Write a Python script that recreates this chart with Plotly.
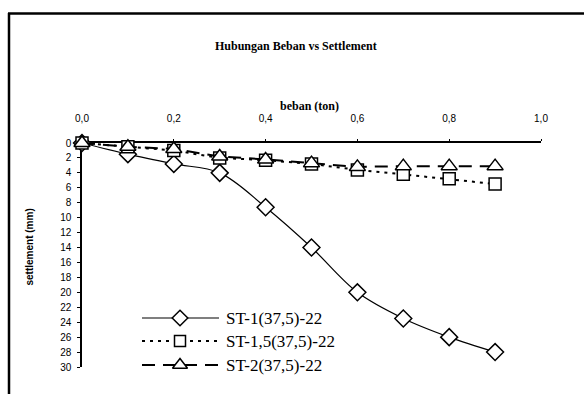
import plotly.graph_objects as go

beban = [0.0, 0.1, 0.2, 0.3, 0.4, 0.5, 0.6, 0.7, 0.8, 0.9]
st1 = [0.0, 1.5, 2.8, 4.0, 8.6, 14.0, 20.0, 23.5, 26.0, 28.0]
st15 = [0.0, 0.5, 1.0, 2.0, 2.3, 2.8, 3.6, 4.2, 4.8, 5.5]
st2 = [0.0, 0.5, 0.8, 1.8, 2.2, 2.7, 3.2, 3.1, 3.1, 3.1]
names = ["ST-1(37,5)-22", "ST-1,5(37,5)-22", "ST-2(37,5)-22"]
x_ticks = [0.0, 0.2, 0.4, 0.6, 0.8, 1.0]
x_ticktext = ["0,0", "0,2", "0,4", "0,6", "0,8", "1,0"]
y_ticks = list(range(0, 31, 2))

W, H = 584, 394
L, R, T, B = 82, 541, 143, 367

def px(x):
    return (x - L) / (R - L)

def py(y):
    return (B - y) / (B - T)

styles = [
    dict(sym="diamond", size=13, dash="solid", width=1.2, shape="spline"),
    dict(sym="square", size=12, dash="3px,5px", width=2, shape="linear"),
    dict(sym="triangle-up", size=14, dash="13px,8px", width=2, shape="linear"),
]
series = [st1, st15, st2]

fig = go.Figure()
for s, st, nm in zip(series, styles, names):
    fig.add_trace(go.Scatter(
        x=beban, y=s, name=nm, mode="lines+markers",
        line=dict(color="black", width=st["width"], dash=st["dash"], shape=st["shape"]),
        marker=dict(symbol=st["sym"], size=st["size"], color="white",
                    line=dict(color="black", width=1.5)),
        cliponaxis=False, showlegend=False,
    ))

# custom legend (sample line + marker on an overlay paper-like axis)
leg_rows = [318, 341, 365]
lx0, lx1, lxm = 142, 219, 180
for i, (st, nm) in enumerate(zip(styles, names)):
    yy = py(leg_rows[i])
    fig.add_trace(go.Scatter(
        x=[px(lx0), px(lx1)], y=[yy, yy], mode="lines", xaxis="x2", yaxis="y2",
        line=dict(color="black", width=st["width"], dash=st["dash"]),
        showlegend=False, hoverinfo="skip", cliponaxis=False))
    fig.add_trace(go.Scatter(
        x=[px(lxm)], y=[yy], mode="markers", xaxis="x2", yaxis="y2",
        marker=dict(symbol=st["sym"], size=st["size"] - 1, color="white",
                    line=dict(color="black", width=1.5)),
        showlegend=False, hoverinfo="skip", cliponaxis=False))
    fig.add_annotation(x=px(224), y=yy, xref="paper", yref="paper", text=nm,
                       showarrow=False, xanchor="left", yanchor="middle",
                       font=dict(family="Liberation Serif", size=17, color="black"))

fig.update_layout(
    width=W, height=H,
    margin=dict(l=L, r=W - R, t=T, b=H - B, pad=0),
    paper_bgcolor="white", plot_bgcolor="white",
    separators=",.",
    xaxis=dict(side="top", range=[0, 1.0], tickvals=x_ticks, ticktext=x_ticktext,
               showgrid=False, zeroline=False, showline=True, linecolor="black",
               linewidth=1.5, ticks="outside", ticklen=2, tickcolor="black",
               ticklabelstandoff=13,
               tickfont=dict(family="Liberation Sans", size=10, color="black"),
               layer="below traces", fixedrange=True),
    yaxis=dict(range=[30, 0], tickvals=y_ticks, showgrid=False, zeroline=False,
               showline=True, linecolor="black", linewidth=1.5, ticks="outside",
               ticklen=3, tickcolor="black", ticklabelstandoff=4,
               tickfont=dict(family="Liberation Sans", size=10, color="black"),
               layer="below traces", fixedrange=True),
    xaxis2=dict(overlaying="x", range=[0, 1], visible=False, fixedrange=True),
    yaxis2=dict(overlaying="y", range=[0, 1], visible=False, fixedrange=True),
    showlegend=False,
)

# frame border
fig.add_shape(type="line", xref="paper", yref="paper",
              x0=px(9), x1=px(9), y0=py(13), y1=py(400),
              line=dict(color="black", width=2.5))
fig.add_shape(type="line", xref="paper", yref="paper",
              x0=px(8), x1=px(600), y0=py(13.5), y1=py(13.5),
              line=dict(color="black", width=2.5))

fig.add_annotation(x=px(296), y=py(37), xref="paper", yref="paper",
                   text="<b>Hubungan Beban vs Settlement</b>", showarrow=False,
                   font=dict(family="Liberation Serif", size=12, color="black"))
fig.add_annotation(x=px(309), y=py(97), xref="paper", yref="paper",
                   text="<b>beban (ton)</b>", showarrow=False,
                   font=dict(family="Liberation Serif", size=12, color="black"))
fig.add_annotation(x=px(21), y=py(247), xref="paper", yref="paper",
                   text="<b>settlement (mm)</b>", showarrow=False, textangle=-90,
                   font=dict(family="Liberation Sans", size=10, color="black"))

fig.write_html("out.html")
